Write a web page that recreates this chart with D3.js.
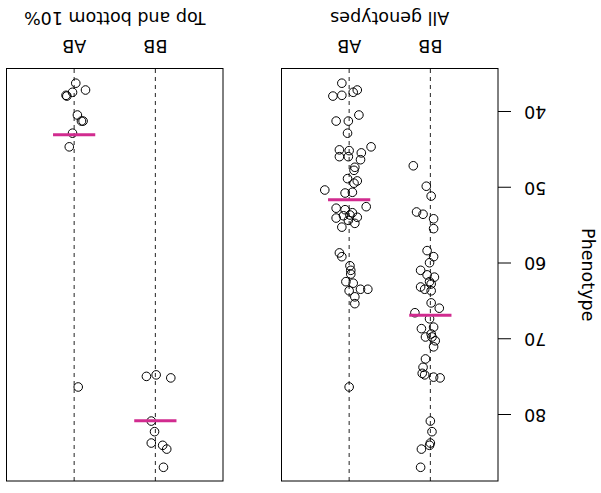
<!DOCTYPE html>
<html>
<head>
<meta charset="utf-8">
<script src="https://cdn.jsdelivr.net/npm/d3@7"></script>
<style>
  body { margin: 0; background: #fff; }
  svg text { font-family: "DejaVu Sans", sans-serif; fill: #000; }
</style>
</head>
<body>
<div id="chart"></div>
<script>
// Genotype groups, left to right
var categories = ['BB', 'AB'];

// Phenotype by genotype, all individuals
var allBB = [47.1, 49.8, 51.1, 53.2, 53.5, 54.1, 55.4, 58.3, 59.1, 59.9, 60.9, 61.5, 61.8, 62.4,
    62.7, 63.1, 63.4, 63.6, 65.2, 65.9, 66.5, 67.3, 68.6, 68.4, 69.3, 69.7, 69.7, 70.2, 71.0,
    72.6, 73.7, 74.5, 74.7, 75.0, 75.1, 80.8, 82.2, 83.7, 84.0, 84.5, 86.9];
var allBBJitter = [0.21, 0.05, -0.01, 0.17, 0.09, -0.04, -0.04, 0.04, -0.04, 0.01, 0.12, 0.04, -0.05, 0.01,
    -0.01, 0.12, 0.07, -0.01, -0.01, -0.11, 0.19, 0.01, 0.11, -0.04, -0.01, 0.06, -0.02, -0.06, -0.04,
    0.06, 0.09, 0.10, 0.07, -0.04, -0.12, 0.00, -0.02, 0.00, 0.01, 0.11, 0.12];

var allAB = [36.2, 37.9, 37.8, 37.4, 37.1, 41.2, 41.2, 40.4, 42.8, 45.0, 45.1, 45.4, 44.6, 45.9,
    45.9, 46.3, 47.3, 47.7, 48.8, 49.1, 49.4, 50.3, 50.7, 50.6, 52.5, 52.7, 52.9, 53.3, 54.0,
    53.9, 54.3, 55.2, 54.7, 53.6, 53.7, 58.6, 59.1, 60.3, 60.9, 61.4, 62.4, 62.6, 63.4, 63.4,
    63.6, 64.4, 65.3, 76.3];
var allABJitter = [0.09, 0.20, 0.09, -0.05, -0.10, 0.16, 0.01, -0.12, 0.02, 0.12, 0.00, -0.15, -0.27, 0.12,
    0.01, -0.14, -0.07, -0.06, 0.02, -0.10, -0.06, 0.30, 0.05, -0.04, -0.21, 0.16, 0.05, -0.04, 0.16,
    -0.10, 0.01, 0.09, -0.07, -0.01, 0.07, 0.12, 0.09, -0.01, -0.02, -0.02, 0.04, -0.05, -0.14, -0.23,
    0.00, -0.07, -0.07, 0.00];

// Phenotype by genotype, top and bottom 10% only
var extBB = [74.9, 74.7, 75.1, 80.8, 82.2, 83.7, 84.0, 84.5, 86.9];
var extBBJitter = [0.11, -0.01, -0.19, 0.05, 0.01, 0.05, -0.09, -0.14, -0.10];

var extAB = [36.2, 37.1, 37.4, 37.8, 37.9, 40.4, 41.2, 41.2, 42.8, 44.6, 76.3];
var extABJitter = [-0.02, -0.14, 0.02, 0.10, 0.09, -0.04, -0.09, -0.11, 0.02, 0.06, -0.05];

var yTicks = [40, 50, 60, 70, 80];
var panelTitles = ['All genotypes', 'Top and bottom 10%'];
var yTitle = 'Phenotype';

var width = 601,
    height = 493,
    panelTop = 12,
    panelBottom = 424.5,
    panelLefts = [103, 378],
    panelWidth = 216.5,
    radius = 4.3,
    fontSize = '17.5px',
    meanColor = '#d12b8f';

var panels = [
    { title: panelTitles[0], groups: [
        { cat: categories[0], values: allBB, jitter: allBBJitter },
        { cat: categories[1], values: allAB, jitter: allABJitter }] },
    { title: panelTitles[1], groups: [
        { cat: categories[0], values: extBB, jitter: extBBJitter },
        { cat: categories[1], values: extAB, jitter: extABJitter }] }
];

var yScale = d3.scaleLinear()
    .domain([34.26, 88.71])
    .range([panelBottom, panelTop]);

var svg = d3.select('#chart').append('svg')
    .attr('width', width)
    .attr('height', height)
    .attr('viewBox', `0 0 ${width} ${height}`);

svg.append('rect')
    .attr('width', width)
    .attr('height', height)
    .attr('fill', '#fff');

// the whole figure is drawn turned upside down
var root = svg.append('g')
    .attr('transform', 'rotate(180,' + (width / 2) + ',' + (height / 2) + ')');

panels.forEach(function(panel, i) {
    var x0 = panelLefts[i];
    var xScale = d3.scalePoint()
        .domain(categories)
        .range([x0, x0 + panelWidth])
        .padding(0.833);
    var step = xScale.step();

    var g = root.append('g').attr('class', 'panel');

    // dashed guide per genotype
    g.selectAll('.guide')
        .data(categories)
        .enter().append('line')
        .attr('class', 'guide')
        .attr('x1', (d) => xScale(d))
        .attr('x2', (d) => xScale(d))
        .attr('y1', panelTop)
        .attr('y2', panelBottom)
        .attr('stroke', '#222')
        .attr('stroke-width', 1)
        .attr('stroke-dasharray', '4,4');

    // points
    panel.groups.forEach(function(grp) {
        var pts = grp.values.map((v, k) => ({ y: v, j: grp.jitter[k] }));
        g.selectAll(null)
            .data(pts)
            .enter().append('circle')
            .attr('cx', (d) => xScale(grp.cat) + d.j * step)
            .attr('cy', (d) => yScale(d.y))
            .attr('r', radius)
            .attr('fill', 'none')
            .attr('stroke', '#000')
            .attr('stroke-width', 1);
    });

    // group means
    g.selectAll('.mean')
        .data(panel.groups)
        .enter().append('line')
        .attr('class', 'mean')
        .attr('x1', (d) => xScale(d.cat) - 0.26 * step)
        .attr('x2', (d) => xScale(d.cat) + 0.26 * step)
        .attr('y1', (d) => yScale(d3.mean(d.values)))
        .attr('y2', (d) => yScale(d3.mean(d.values)))
        .attr('stroke', meanColor)
        .attr('stroke-width', 3);

    // frame
    g.append('rect')
        .attr('x', x0)
        .attr('y', panelTop)
        .attr('width', panelWidth)
        .attr('height', panelBottom - panelTop)
        .attr('fill', 'none')
        .attr('stroke', '#000')
        .attr('stroke-width', 1);

    // genotype labels under the frame
    g.selectAll('.catLabel')
        .data(categories)
        .enter().append('text')
        .attr('class', 'catLabel')
        .attr('x', (d) => xScale(d))
        .attr('y', 453)
        .attr('text-anchor', 'middle')
        .style('font-size', fontSize)
        .text((d) => d);

    g.append('text')
        .attr('x', x0 + panelWidth / 2)
        .attr('y', 481)
        .attr('text-anchor', 'middle')
        .style('font-size', fontSize)
        .text(panel.title);
});

// phenotype axis on the first panel
var yAxis = d3.axisLeft(yScale)
    .tickValues(yTicks)
    .tickSize(13)
    .tickPadding(13);

var axisG = root.append('g')
    .attr('transform', 'translate(' + panelLefts[0] + ',0)')
    .call(yAxis);
axisG.select('.domain').remove();
axisG.selectAll('.tick line').attr('stroke', '#000');
axisG.selectAll('.tick text')
    .style('font-size', fontSize)
    .style('font-family', '"DejaVu Sans", sans-serif');

root.append('text')
    .attr('transform', 'translate(19,' + ((panelTop + panelBottom) / 2) + ') rotate(-90)')
    .attr('text-anchor', 'middle')
    .style('font-size', fontSize)
    .text(yTitle);
</script>
</body>
</html>
